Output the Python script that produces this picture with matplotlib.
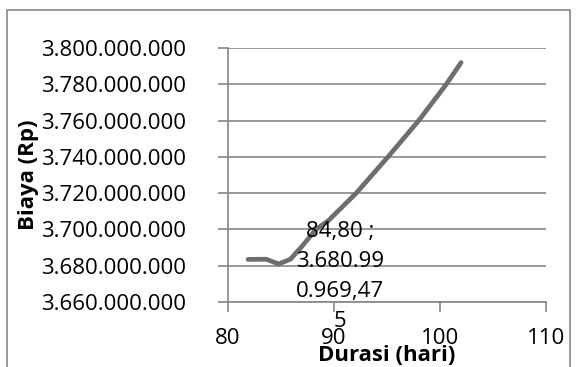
import matplotlib
matplotlib.use('Agg')
import matplotlib.pyplot as plt
from matplotlib.patches import Rectangle
from matplotlib.ticker import FuncFormatter
import numpy as np
#-----------------------------------------------------------------------------------------------------------------------
# Data
durasi = [81.9, 83.6, 84.8, 85.9, 87.0, 88.3, 89.5, 92.1, 95.1, 98.0, 100.6, 102.0]
biaya = [3683.5e6, 3683.6e6, 3680.99e6, 3683.6e6, 3690.8e6, 3700e6, 3705e6,
         3720e6, 3740e6, 3760e6, 3780e6, 3792e6]
x_ticks = [80, 90, 100, 110]
y_ticks = [3.66e9, 3.68e9, 3.70e9, 3.72e9, 3.74e9, 3.76e9, 3.78e9, 3.80e9]
label_text = '84,80 ;\n3.680.99\n0.969,47\n5'
#-----------------------------------------------------------------------------------------------------------------------
plt.rcParams['font.family'] = ['Open Sans', 'DejaVu Sans']
FS = 16
GRID = '#868686'

fig = plt.figure(figsize=(5.77, 3.67), dpi=100)
ax = fig.add_axes([0.395, 0.177, 0.551, 0.692])

ax.plot(durasi, biaya, color='#6e6e6e', linewidth=3.4, solid_capstyle='round', solid_joinstyle='round')

ax.set_xlim(80, 110)
ax.set_ylim(3.66e9, 3.80e9)
ax.set_xticks(x_ticks)
ax.set_yticks(y_ticks)
ax.yaxis.set_major_formatter(FuncFormatter(lambda v, p: format(int(round(v)), ',').replace(',', '.')))
ax.tick_params(axis='both', labelsize=FS, colors=GRID, labelcolor='black', length=7, width=1.2)
ax.tick_params(axis='x', pad=12)
ax.tick_params(axis='y', pad=23)

ax.grid(axis='y', color=GRID, linewidth=1.2)
ax.set_axisbelow(True)
for s in ['top', 'right']:
    ax.spines[s].set_visible(False)
for s in ['left', 'bottom']:
    ax.spines[s].set_color(GRID)
    ax.spines[s].set_linewidth(1.2)

ax.set_xlabel('Durasi (hari)', fontsize=FS, fontweight='bold', va='top')
ax.xaxis.set_label_coords(0.5, -0.168)
ax.set_ylabel('Biaya (Rp)', fontsize=FS, fontweight='bold')
ax.yaxis.set_label_coords(-0.595, 0.5)

# data label at minimum point
ax.text(90.6, 3.7047e9, label_text, fontsize=FS, ha='center', va='top', linespacing=1.56)

# chart area border
fig.patches.append(Rectangle((7/577, -0.1), 563/577, 1.1 - 10/367, transform=fig.transFigure,
                             fill=False, edgecolor=GRID, linewidth=1.2))

fig.savefig('out.png', dpi=100)
